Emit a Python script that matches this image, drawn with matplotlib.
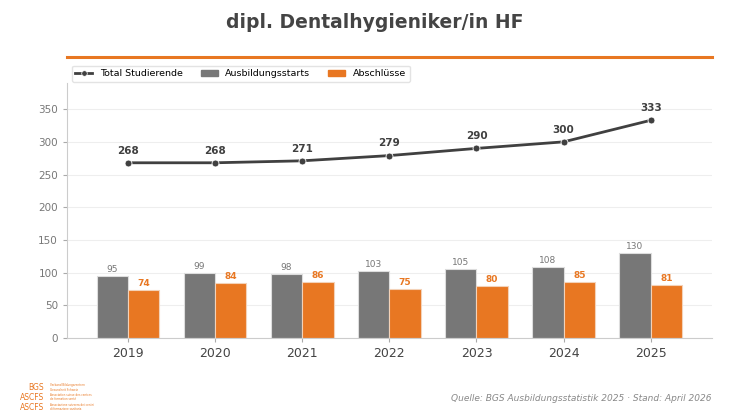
import numpy as np
import matplotlib.pyplot as plt
from matplotlib.lines import Line2D

years = ['2019', '2020', '2021', '2022', '2023', '2024', '2025']
total_studierende = [268, 268, 271, 279, 290, 300, 333]
ausbildungsstarts = [95, 99, 98, 103, 105, 108, 130]
abschluesse = [74, 84, 86, 75, 80, 85, 81]

gray = '#777777'
orange = '#E87722'
dark = '#404040'

fig = plt.figure(figsize=(7.5, 4.13), dpi=100)
ax = fig.add_axes([0.0893, 0.1816, 0.8597, 0.6174])

x = np.arange(len(years))
w = 0.36

ax.bar(x - w / 2, ausbildungsstarts, w, color=gray, edgecolor='#dddddd', linewidth=0.8, zorder=2)
ax.bar(x + w / 2, abschluesse, w, color=orange, edgecolor='#f3d2b8', linewidth=0.8, zorder=2)
ax.plot(x, total_studierende, color=dark, linewidth=2, marker='o', markersize=5,
        markeredgecolor='white', markeredgewidth=0.6, zorder=3)

for xi, v in zip(x, ausbildungsstarts):
    ax.text(xi - w / 2, v + 3, str(v), ha='center', va='bottom', fontsize=6.5, color='#777777')
for xi, v in zip(x, abschluesse):
    ax.text(xi + w / 2, v + 3, str(v), ha='center', va='bottom', fontsize=6.5, color=orange, fontweight='bold')
for xi, v in zip(x, total_studierende):
    ax.text(xi, v + 11, str(v), ha='center', va='bottom', fontsize=7.5, color=dark, fontweight='bold')

ax.set_xlim(-0.7, 6.7)
ax.set_ylim(0, 390)
ax.set_yticks(np.arange(0, 351, 50))
ax.set_xticks(x)
ax.set_xticklabels(years, fontsize=9, color='#444444')
ax.tick_params(axis='y', labelsize=7.5, colors='#777777', length=3, color='#aaaaaa')
ax.tick_params(axis='x', length=3, color='#aaaaaa')
ax.yaxis.grid(True, color='#eeeeee', linewidth=0.8, zorder=0)
ax.set_axisbelow(True)
for s in ['top', 'right']:
    ax.spines[s].set_visible(False)
for s in ['left', 'bottom']:
    ax.spines[s].set_color('#cccccc')

handles = [
    Line2D([0], [0], color=dark, linewidth=2, marker='o', markersize=4,
           markeredgecolor='white', markeredgewidth=0.5),
    plt.Rectangle((0, 0), 1, 1, color=gray),
    plt.Rectangle((0, 0), 1, 1, color=orange),
]
ax.legend(handles, ['Total Studierende', 'Ausbildungsstarts', 'Abschlüsse'],
          loc='lower left', bbox_to_anchor=(0.0, 0.985), ncol=3, fontsize=6.8,
          frameon=True, edgecolor='#dddddd', handlelength=1.8, columnspacing=1.9,
          borderpad=0.4, handleheight=0.6, handletextpad=0.8)

fig.text(0.5, 0.945, 'dipl. Dentalhygieniker/in HF', ha='center', va='center',
         fontsize=13.5, fontweight='bold', color='#444444')
fig.add_artist(Line2D([0.0893, 0.949], [0.862, 0.862], color=orange, linewidth=2.2))

fig.text(0.949, 0.034, 'Quelle: BGS Ausbildungsstatistik 2025 · Stand: April 2026',
         ha='right', va='center', fontsize=6.5, color='#888888', style='italic')

logo_rows = [('BGS', 'Verband Bildungszentren\nGesundheit Schweiz'),
             ('ASCFS', 'Association suisse des centres\nde formation santé'),
             ('ASCFS', 'Associazione svizzera dei centri\ndi formazione sanitaria')]
for i, (abbr, desc) in enumerate(logo_rows):
    yy = 0.062 - i * 0.024
    fig.text(0.059, yy, abbr, ha='right', va='center', fontsize=5.5, color=orange)
    fig.text(0.067, yy, desc, ha='left', va='center', fontsize=2, color=orange, linespacing=1.1)

fig.savefig('out.png', dpi=100)
